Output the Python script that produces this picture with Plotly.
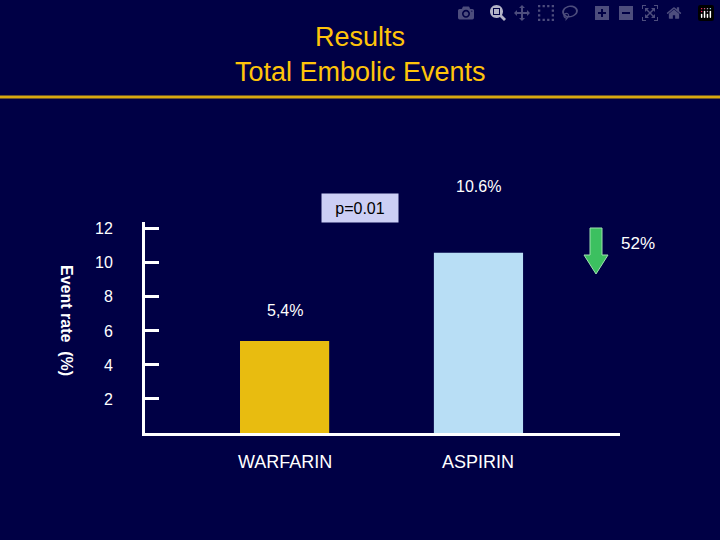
import plotly.graph_objects as go

categories = ["WARFARIN", "ASPIRIN"]
values = [5.4, 10.6]
value_labels = ["5,4%", "10.6%"]
tick_vals = [2, 4, 6, 8, 10, 12]
bar_colors = ["#e8bc10", "#b8def5"]

L, R, T, B = 145, 100, 222, 107
W, H = 720 - L - R, 540 - T - B
def px(x): return (x - L) / W
def py(y): return (540 - B - y) / H

fig = go.Figure(go.Bar(
    x=[0, 1], y=values, width=0.46,
    marker=dict(color=bar_colors, line=dict(width=0)),
))

font = "Liberation Sans, Arial, sans-serif"
ann = [
    dict(x=px(360), y=py(37), text="Results", font=dict(size=27, color="#ffc40a")),
    dict(x=px(360), y=py(72), text="Total Embolic Events", font=dict(size=27, color="#ffc40a")),
    dict(x=px(360), y=py(208), text="p=0.01", font=dict(size=16, color="black"),
         bgcolor="#cccff5", width=74, height=26),
    dict(x=1, y=values[1], xref="x", yref="y", yshift=66, text=value_labels[1], font=dict(size=16, color="white")),
    dict(x=0, y=values[0], xref="x", yref="y", yshift=31, text=value_labels[0], font=dict(size=16, color="white")),
    dict(x=px(638), y=py(243), text="52%", font=dict(size=17, color="white")),
    dict(x=px(67), y=py(320), text="<b>Event rate  (%)</b>", textangle=90,
         font=dict(size=16, color="white")),
    dict(x=0, y=py(462), yref="paper", xref="x", text=categories[0], font=dict(size=18, color="white")),
    dict(x=1, y=py(462), yref="paper", xref="x", text=categories[1], font=dict(size=18, color="white")),
]
for a in ann:
    a.setdefault("xref", "paper"); a.setdefault("yref", "paper")
    a["showarrow"] = False
    a["xanchor"] = "center"; a["yanchor"] = "middle"

arrow = (f"M {px(590)} {py(228)} L {px(602)} {py(228)} L {px(602)} {py(255)} "
         f"L {px(608)} {py(255)} L {px(596)} {py(274)} L {px(584)} {py(255)} "
         f"L {px(590)} {py(255)} Z")

fig.update_layout(
    width=720, height=540,
    margin=dict(l=L, r=R, t=T, b=B, autoexpand=False),
    paper_bgcolor="#000045", plot_bgcolor="#000045",
    font=dict(family=font, color="white"),
    showlegend=False,
    annotations=ann,
    shapes=[
        dict(type="line", xref="paper", yref="paper", x0=px(0), x1=px(720),
             y0=py(97), y1=py(97), line=dict(color="#d8a810", width=3)),
        dict(type="path", xref="paper", yref="paper", path=arrow,
             fillcolor="#3cc060", line=dict(color="#a0e0b0", width=1)),
    ],
    xaxis=dict(range=[-0.72, 1.73], showticklabels=False, showgrid=False,
               zeroline=False, showline=True, linecolor="white", linewidth=3, ticks=""),
    yaxis=dict(range=[0, 12.4], tickvals=tick_vals, showgrid=False, zeroline=False,
               showline=True, linecolor="white", linewidth=3,
               ticks="inside", ticklen=14, tickwidth=3, tickcolor="white",
               ticklabelstandoff=26, tickfont=dict(size=16, color="white")),
)
fig.write_html("out.html")
with open("out.html", encoding="utf-8") as f:
    html = f.read()
html = html.replace("<head>", "<head><style>body{margin:0;background:#000045}</style>", 1)
with open("out.html", "w", encoding="utf-8") as f:
    f.write(html)
